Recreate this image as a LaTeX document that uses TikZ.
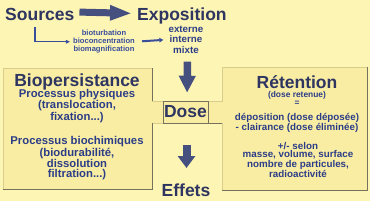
\documentclass[tikz,border=0pt]{standalone}
\usepackage{fontspec}
\setmainfont{Liberation Sans}
\usetikzlibrary{arrows.meta}
\definecolor{bg}{HTML}{FDF5B4}
\definecolor{boxfill}{HTML}{F9EDA3}
\definecolor{boxedge}{HTML}{D9CC8C}
\definecolor{boxshade}{HTML}{76715C}
\definecolor{navy}{HTML}{2E3561}
\definecolor{subblue}{HTML}{2C3D88}
\definecolor{arrowcol}{HTML}{46507F}
\definecolor{thinblue}{HTML}{3A4E9C}
\tikzset{
  title/.style={font=\fontsize{17.5}{20}\selectfont\bfseries, text=navy, inner sep=0pt},
  smalltxt/.style={font=\fontsize{7.6}{8}\selectfont\bfseries, text=thinblue, align=center, inner sep=0pt},
  expotxt/.style={font=\fontsize{9.8}{10.6}\selectfont\bfseries, text=subblue, align=center, inner sep=0pt},
  lefttxt/.style={font=\fontsize{11.3}{10}\selectfont\bfseries, text=subblue, align=center, inner sep=0pt},
  righttxt/.style={font=\fontsize{9.8}{8.6}\selectfont\bfseries, text=subblue, align=center, inner sep=0pt},
  rightsmall/.style={font=\fontsize{8.4}{8.4}\selectfont\bfseries, text=subblue, align=center, inner sep=0pt},
  bigbox/.style={fill=boxfill, draw=boxedge, line width=0.6pt},
  boxshadow/.style={draw=boxshade, line width=0.7pt},
  fatarrow/.style={draw=arrowcol, line width=7pt, -{Triangle[length=22pt,width=14pt]}},
  fatdown/.style={draw=arrowcol, line width=7.5pt, -{Triangle[length=17pt,width=16pt]}},
  fatdowntwo/.style={draw=arrowcol, line width=8pt, -{Triangle[length=12pt,width=17pt]}},
  thinarrow/.style={draw=thinblue, line width=1.1pt, -{Triangle[length=4pt,width=3.5pt]}},
  midarrow/.style={draw=thinblue, line width=2pt, -{Triangle[length=4pt,width=4.5pt]}},
  dosebox/.style={fill=boxfill, draw=boxshade, line width=0.6pt, minimum width=45pt, minimum height=22pt, inner sep=0pt,
     font=\fontsize{17.5}{20}\selectfont\bfseries, text=navy}
}
\begin{document}
\begin{tikzpicture}[x=1pt,y=-1pt]
\useasboundingbox[fill=bg] (0,0) rectangle (370,201);

% left box with tab
\path[bigbox] (3,68) -- (152,68) -- (152,101) -- (163,101) -- (163,123) -- (152,123) -- (152,189) -- (3,189) -- cycle;
\draw[boxshadow] (152,68) -- (152,101);
\draw[boxshadow] (152,123) -- (152,189) -- (3,189);
% right box with tab
\path[bigbox] (222,67) -- (367,67) -- (367,190) -- (222,190) -- (222,123) -- (208,123) -- (208,101) -- (222,101) -- cycle;
\draw[boxshadow] (367,67) -- (367,190) -- (222,190);
\draw[boxshadow] (208,123) -- (222,123);

% texts
\node[title, anchor=base west] (src) at (5,20.5) {Sources};
\node[title, anchor=base west] (expo) at (137,20.5) {Exposition};
\node[smalltxt, anchor=north] (bio) at (104,30) {bioturbation\\bioconcentration\\biomagnification};
\node[expotxt, anchor=north] (expoblock) at (186,25.5) {externe\\interne\\mixte};

\node[title, anchor=base] (biop) at (77,86) {Biopersistance};
\node[lefttxt, anchor=north] (phys) at (77,89) {Processus physiques\\(translocation,\\fixation...)};
\node[lefttxt, anchor=north] (bioch) at (77,136) {Processus biochimiques\\(biodurabilité,\\dissolution\\filtration...)};

\node[title, anchor=base] (ret) at (297,88) {Rétention};
\node[rightsmall, anchor=north] (retenue) at (297,91) {(dose retenue)\\=};
\node[righttxt, anchor=north] (depo) at (297,113) {déposition (dose déposée)\\- clairance (dose éliminée)};
\node[righttxt, anchor=north] (selon) at (298,142) {+/- selon\\masse, volume, surface\\nombre de particules,\\radioactivité};

\node[dosebox] (dose) at (185.5,112) {Dose};
\node[title, anchor=base] (effets) at (186,196) {Effets};

% connectors
\draw[fatarrow, shorten <=5pt, shorten >=5pt] ([yshift=2.5pt]src.east) -- ([yshift=2.5pt]expo.west);
\draw[thinarrow] ([xshift=30pt,yshift=-6pt]src.south west) |- ([xshift=-3pt]bio.west);
\draw[midarrow, shorten <=7pt, shorten >=5pt] (bio.east) -- (expoblock.west);
\draw[fatdown, shorten <=8pt, shorten >=8pt] ([xshift=1.5pt]expoblock.south) -- ([xshift=1.5pt]dose.north);
\draw[fatdowntwo, shorten <=22pt, shorten >=15pt] ([xshift=1pt]dose.south) -- ([xshift=0.5pt,yshift=13pt]effets.base);
\end{tikzpicture}
\end{document}
